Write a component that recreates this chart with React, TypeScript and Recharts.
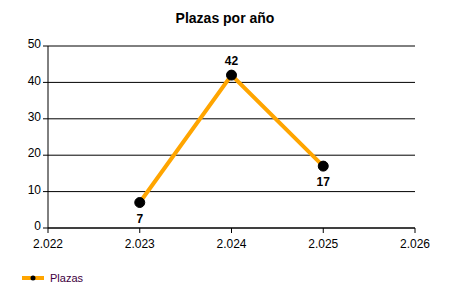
import { LineChart, Line, XAxis, YAxis, CartesianGrid, LabelList } from "recharts";

const years = [2023, 2024, 2025];
const plazas = [7, 42, 17];
const xTicks = [2022, 2023, 2024, 2025, 2026];
const yTicks = [0, 10, 20, 30, 40, 50];

const data = years.map((year, i) => ({ year, plazas: plazas[i] }));

const font = "'Liberation Sans', Arial, sans-serif";

function PointLabel(props: any) {
  const { x, y, value, index } = props;
  const above = index === 1;
  return (
    <text
      x={x}
      y={above ? y - 10 : y + 20}
      textAnchor="middle"
      fontFamily={font}
      fontSize={12}
      fontWeight="bold"
      fill="#000"
    >
      {value}
    </text>
  );
}

export default function App() {
  return (
    <div style={{ position: "absolute", left: 0, top: 0, width: 450, height: 300, background: "#fff" }}>
      <div
        style={{
          position: "absolute",
          top: 10,
          left: 0,
          width: 450,
          textAlign: "center",
          fontFamily: font,
          fontWeight: "bold",
          fontSize: 14,
        }}
      >
        Plazas por año
      </div>
      <LineChart width={450} height={300} data={data} margin={{ top: 46, right: 35, left: 0, bottom: 42 }}>
        <CartesianGrid vertical={false} stroke="#000" strokeWidth={1} />
        <XAxis
          dataKey="year"
          type="number"
          domain={[2022, 2026]}
          ticks={xTicks}
          tickFormatter={(v: number) => {
            const s = String(v);
            return s.slice(0, 1) + "." + s.slice(1);
          }}
          stroke="#000"
          tickSize={5}
          tick={{ fill: "#000", fontSize: 12, fontFamily: font, dy: 4 }}
          height={30}
        />
        <YAxis
          domain={[0, 50]}
          ticks={yTicks}
          stroke="#000"
          tickSize={5}
          width={48}
          tick={{ fill: "#000", fontSize: 12, fontFamily: font, dy: -2 }}
        />
        <Line
          dataKey="plazas"
          stroke="#FFA500"
          strokeWidth={4}
          dot={{ r: 5, fill: "#000", stroke: "#000", strokeWidth: 1 }}
          activeDot={false}
          isAnimationActive={false}
        >
          <LabelList dataKey="plazas" content={PointLabel} />
        </Line>
      </LineChart>
      <div style={{ position: "absolute", left: 22, top: 270, display: "flex", alignItems: "center", fontFamily: font, fontSize: 11, color: "#400040" }}>
        <svg width={24} height={16} style={{ marginRight: 4 }}>
          <line x1={0} y1={8} x2={22} y2={8} stroke="#FFA500" strokeWidth={4} />
          <circle cx={11} cy={8} r={2.5} fill="#000" />
        </svg>
        Plazas
      </div>
    </div>
  );
}
